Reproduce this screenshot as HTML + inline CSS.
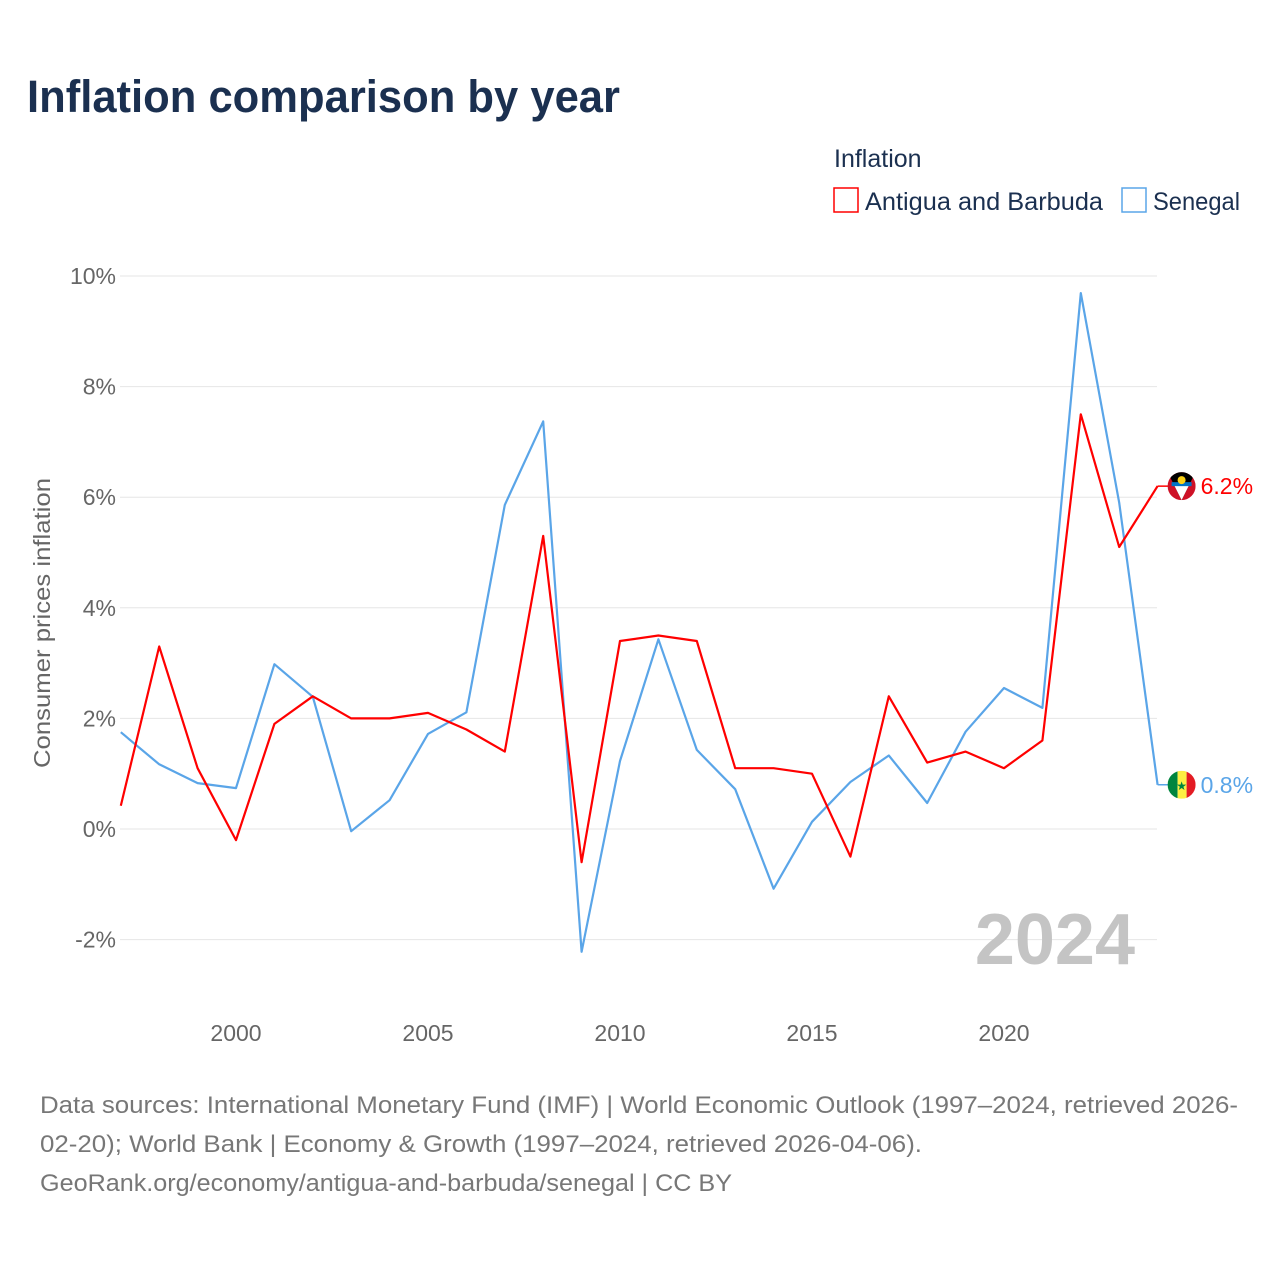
<!DOCTYPE html>
<html><head><meta charset="utf-8">
<style>
body{margin:0;background:#fff;font-family:"Liberation Sans",sans-serif;}
#wrap{position:relative;width:1280px;height:1280px;overflow:hidden;}
</style></head>
<body>
<div id="wrap">
<svg id="chart" width="1280" height="1280" xmlns="http://www.w3.org/2000/svg">
<defs>
<clipPath id="cA"><circle id="cAc" cx="0" cy="0" r="14"/></clipPath>
<clipPath id="cS"><circle id="cSc" cx="0" cy="0" r="14"/></clipPath>
</defs>
<text x="27" y="112" font-size="45" font-weight="bold" fill="#1b3050" textLength="593" lengthAdjust="spacingAndGlyphs">Inflation comparison by year</text>
<text x="834" y="167" font-size="25" fill="#1b3050">Inflation</text>
<g>
<rect x="834" y="188" width="24" height="24" fill="none" stroke="#ff0000" stroke-width="1.5"/>
<text x="865" y="210" font-size="25" fill="#1b3050" textLength="238" lengthAdjust="spacingAndGlyphs">Antigua and Barbuda</text></g>
<g>
<rect x="1122" y="188" width="24" height="24" fill="none" stroke="#5aa5e8" stroke-width="1.5"/>
<text x="1153" y="210" font-size="25" fill="#1b3050" textLength="87" lengthAdjust="spacingAndGlyphs">Senegal</text></g>
<g id="grid"></g>
<g id="xt"></g>
<text transform="translate(50,623) rotate(-90)" text-anchor="middle" font-size="23" fill="#666" textLength="290" lengthAdjust="spacingAndGlyphs">Consumer prices inflation</text>
<text x="1135" y="964" text-anchor="end" font-size="72" font-weight="bold" fill="#c4c4c4">2024</text>
<g id="series"></g>
<text x="40" y="1113" font-size="24" fill="#777" textLength="1198" lengthAdjust="spacingAndGlyphs">Data sources: International Monetary Fund (IMF) | World Economic Outlook (1997–2024, retrieved 2026-</text>
<text x="40" y="1152" font-size="24" fill="#777" textLength="882" lengthAdjust="spacingAndGlyphs">02-20); World Bank | Economy &amp; Growth (1997–2024, retrieved 2026-04-06).</text>
<text x="40" y="1191" font-size="24" fill="#777" textLength="692" lengthAdjust="spacingAndGlyphs">GeoRank.org/economy/antigua-and-barbuda/senegal | CC BY</text>
</svg>
</div>
<script>
const years=[1997,1998,1999,2000,2001,2002,2003,2004,2005,2006,2007,2008,2009,2010,2011,2012,2013,2014,2015,2016,2017,2018,2019,2020,2021,2022,2023,2024];
const antigua=[0.42,3.3,1.1,-0.2,1.9,2.4,2.0,2.0,2.1,1.8,1.4,5.3,-0.6,3.4,3.5,3.4,1.1,1.1,1.0,-0.5,2.4,1.2,1.4,1.1,1.6,7.5,5.1,6.2];
const senegal=[1.75,1.17,0.83,0.74,2.98,2.39,-0.04,0.52,1.72,2.11,5.86,7.37,-2.22,1.23,3.43,1.43,0.72,-1.08,0.13,0.85,1.33,0.47,1.76,2.55,2.19,9.69,5.9,0.8];
const yTicks=[-2,0,2,4,6,8,10];
const xTicks=[2000,2005,2010,2015,2020];
const NS="http://www.w3.org/2000/svg";
function X(y){return 120.8+(y-1997)*38.4;}
function Y(v){return 829-v*55.3;}
function mk(t,a,p){const e=document.createElementNS(NS,t);for(const k in a)e.setAttribute(k,a[k]);p.appendChild(e);return e;}
const grid=document.getElementById('grid');
yTicks.forEach(v=>{
 const l=mk('line',{x1:120,x2:1157,y1:Y(v),y2:Y(v),stroke:'#e6e6e6','stroke-width':1},grid);
 
 
 const t=mk('text',{x:116,y:Y(v)+8,'text-anchor':'end','font-size':23,fill:'#666'},grid);
 t.textContent=v+'%';
 
 
});
const xt=document.getElementById('xt');
xTicks.forEach(y=>{
 const t=mk('text',{x:X(y),y:1041,'text-anchor':'middle','font-size':23,fill:'#666'},xt);
 t.textContent=y;
 
 
});
const sg=document.getElementById('series');
function draw(vals,color,name){
 const d=vals.map((v,i)=>(i?'L':'M')+X(years[i]).toFixed(1)+','+Y(v).toFixed(1)).join(' ');
 const p=mk('path',{d:d,fill:'none',stroke:color,'stroke-width':2.2,'stroke-linejoin':'round'},sg);
 
 
 const last=vals[vals.length-1],ly=Y(last),lx=X(years[years.length-1]);
 mk('line',{x1:lx,x2:lx+11,y1:ly,y2:ly,stroke:color,'stroke-width':1.5},sg);
 const cx=lx+24;
 const clipId=name==='antigua'?'cA':'cS';
 const cc=document.getElementById(clipId+'c');cc.setAttribute('cx',cx);cc.setAttribute('cy',ly);
 const g=mk('g',{'clip-path':'url(#'+clipId+')'},sg);
 
 
 if(name==='antigua'){
  mk('rect',{x:cx-14,y:ly-14,width:28,height:28,fill:'#ce1126'},g);
  mk('path',{d:`M${cx-14},${ly-14} L${cx+14},${ly-14} L${cx},${ly+14} Z`,fill:'#000'},g);
  mk('path',{d:`M${cx-8},${ly-2} L${cx+8},${ly-2} L${cx},${ly+14} Z`,fill:'#fff'},g);
  mk('rect',{x:cx-10,y:ly-4,width:20,height:4,fill:'#0072c6'},g);
  mk('circle',{cx:cx,cy:ly-6,r:4,fill:'#fcd116'},g);
 }else{
  mk('rect',{x:cx-14,y:ly-14,width:10,height:28,fill:'#00853f'},g);
  mk('rect',{x:cx-4,y:ly-14,width:9,height:28,fill:'#fdef42'},g);
  mk('rect',{x:cx+5,y:ly-14,width:9,height:28,fill:'#e31b23'},g);
  const s=mk('text',{x:cx,y:ly+5,'text-anchor':'middle','font-size':12,fill:'#00853f'},g);s.textContent='★';
 }
 const t=mk('text',{x:lx+43,y:ly+8,'font-size':23,fill:color},sg);
 t.textContent=last.toFixed(1)+'%';
 
 
}
draw(senegal,'#5aa5e8','senegal');
draw(antigua,'#ff0000','antigua');
</script>
</body></html>
